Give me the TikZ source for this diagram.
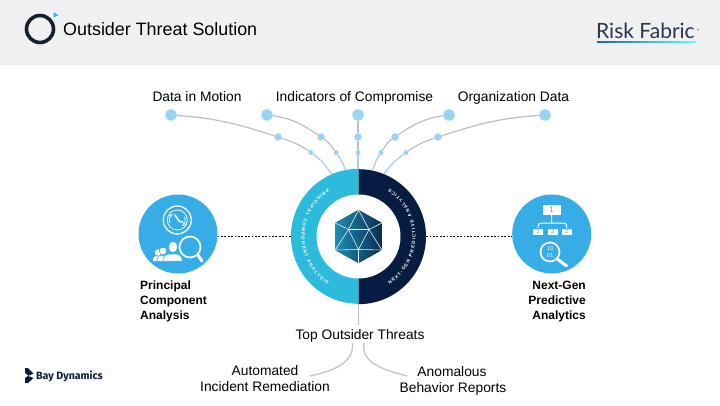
\documentclass[tikz,border=0pt]{standalone}
\usepackage{fontspec}
\setmainfont{Liberation Sans}
\newfontfamily\logofont{Lato}
\newfontfamily\bayfont{Fira Sans}
\usetikzlibrary{backgrounds,decorations.text,calc}
\definecolor{barbg}{HTML}{F0F0F2}
\definecolor{navy}{HTML}{061C40}
\definecolor{teal}{HTML}{2CBBDD}
\definecolor{skyb}{HTML}{36ADE6}
\definecolor{dot}{HTML}{9BD3F3}
\definecolor{wire}{HTML}{B9BEC5}
\definecolor{wireb}{HTML}{A9CDE3}
\definecolor{logodark}{HTML}{14202E}
\definecolor{hexl}{HTML}{1F8DB3}
\definecolor{hexr}{HTML}{0A2C4E}
\definecolor{rfink}{HTML}{2A3650}
\tikzset{
  bigdot/.style={circle,fill=dot,inner sep=0pt,minimum size=11.5pt},
  middot/.style={circle,fill=dot,inner sep=0pt,minimum size=7.5pt},
  smalldot/.style={circle,fill=dot,inner sep=0pt,minimum size=5pt},
  lab/.style={anchor=base,inner sep=0pt,font=\fontsize{13.8}{16}\selectfont,text=black},
  blab/.style={inner sep=0pt,font=\fontsize{12}{15}\selectfont\bfseries,text=black},
  wireline/.style={draw=wire,line width=1.2pt},
  wirelow/.style={draw=wireb,line width=1.2pt},
  iconbg/.style={circle,fill=skyb,inner sep=0pt,minimum size=79pt},
  boxw/.style={fill=white,inner sep=0pt,text=skyb},
  linkdots/.style={line width=1.8pt,dash pattern=on 1.8pt off 1.6pt},
  ringtext/.style={decorate,decoration={text along path,text align={fit to path},text={#1}}}
}
\begin{document}
\begin{tikzpicture}[x=1pt,y=1pt]
\useasboundingbox (0,0) rectangle (720,405);
% header
\fill[barbg] (0,340) rectangle (720,405);
\node[circle,draw=logodark,line width=3.6pt,inner sep=0pt,minimum size=27pt] (logoring) at (40,376) {};
\fill[teal] (53.5,393) -- (58.5,389.5) -- (53.5,387.5) -- cycle;
\node[anchor=base west,inner sep=0pt,font=\fontsize{17.9}{20}\selectfont] (title) at (63,369.5) {Outsider Threat Solution};
\node[anchor=base west,inner sep=0pt,font=\logofont\fontsize{21}{22}\selectfont,text=rfink] (rf) at (596,366) {Risk Fabric};
\fill[logodark] (698,375.5) circle (.6pt);
\fill[left color=blue!55!cyan!70!black!90,right color=cyan!60!white] (597,362.3) rectangle (696,363.6);

% dots
\node[bigdot] (a1) at (171,290) {};
\node[bigdot] (b1) at (267,290) {};
\node[bigdot] (c1) at (358,290) {};
\node[bigdot] (d1) at (449,290) {};
\node[bigdot] (e1) at (545,290) {};
\node[middot] (a2) at (278,268) {};
\node[middot] (b2) at (321,268) {};
\node[middot] (c2) at (358,268) {};
\node[middot] (d2) at (395,268) {};
\node[middot] (e2) at (438,268) {};
\node[smalldot] (a3) at (311,252.5) {};
\node[smalldot] (b3) at (336,252.5) {};
\node[smalldot] (c3) at (358,252.5) {};
\node[smalldot] (d3) at (381,252.5) {};
\node[smalldot] (e3) at (406,252.5) {};

% labels
\node[lab] (l1) at (197,303.2) {Data in Motion};
\node[lab] (l2) at (354.5,303.2) {Indicators of Compromise};
\node[lab] (l3) at (513.5,303.2) {Organization Data};

% hub
\node[circle,inner sep=0pt,minimum size=135pt] (hub) at (358.5,168.5) {};
\fill[teal] (hub.north) arc[start angle=90,end angle=270,radius=67.5pt] -- cycle;
\fill[navy] (hub.south) arc[start angle=-90,end angle=90,radius=67.5pt] -- cycle;
\node[circle,fill=white,inner sep=0pt,minimum size=84pt] (hubin) at (hub.center) {};
\path[postaction={ringtext={|\fontsize{4.6}{5}\selectfont\bfseries\color{white}|PRINCIPAL COMPONENT ANALYSIS}}] ($(hub.center)+(123:57pt)$) arc[start angle=123,end angle=237,radius=57pt];
\path[postaction={ringtext={|\fontsize{4.6}{5}\selectfont\bfseries\color{white}|NEXT-GEN PREDICTIVE ANALYTICS}}] ($(hub.center)+(-57:57pt)$) arc[start angle=-57,end angle=57,radius=57pt];

% hexagon
\begin{scope}[shift={(hub.center)}]
\fill[left color=hexl,right color=hexr] (0,26.5) -- (23.3,13.5) -- (23.3,-13.5) -- (0,-26.5) -- (-23.3,-13.5) -- (-23.3,13.5) -- cycle;
\draw[white!85!teal,line width=.6pt,line join=round]
  (-23.3,-13.5) -- (-10,7) -- (0,26.5) -- (10.5,7) -- (23.3,-13.5) -- (0,-13) -- (-23.3,-13.5)
  (-23.3,13.5) -- (-10,7) -- (10.5,7) -- (23.3,13.5)
  (-10,7) -- (0,-13) -- (10.5,7) (0,-13) -- (0,-26.5);
\end{scope}

% side icons
\node[iconbg] (pca) at (178,171) {};
\node[iconbg] (nextgen) at (551.7,171) {};
% left icon
\begin{scope}[shift={(pca.center)}]
\draw[white,line width=1.3pt] (-.7,14) circle (14pt);
\draw[white,line width=.8pt] (-.7,14) circle (10pt);
\draw[white,line width=1.5pt] (-3.5,19.5) -- (1.5,12.5) -- (5,12);
\draw[white,line width=.7pt,-stealth] (-8,11) arc[start angle=200,end angle=130,radius=8pt];
\draw[white,line width=.7pt,-stealth] (6.5,17) arc[start angle=20,end angle=-50,radius=8pt];
\draw[white,line width=1.7pt] (12,-13) circle (10.5pt);
\draw[white,line width=3pt,line cap=round] (19.5,-20.5) -- (24,-27);
% people
\fill[white] (-20,-18.5) circle (3.2pt);
\fill[white] (-25,-27) .. controls (-25,-22) and (-23,-22) .. (-20,-22) .. controls (-17,-22) and (-15,-22) .. (-15,-27) -- cycle;
\fill[white,draw=skyb,line width=.5pt] (-15,-17) circle (3.8pt);
\fill[white,draw=skyb,line width=.5pt] (-21,-27) .. controls (-21,-21) and (-18,-21.5) .. (-15,-21.5) .. controls (-12,-21.5) and (-9,-21) .. (-8,-27) -- cycle;
\fill[white,draw=skyb,line width=.5pt] (-5,-13) ellipse (4.6pt and 5.6pt);
\fill[white,draw=skyb,line width=.5pt] (-15,-27) .. controls (-15,-19.5) and (-10,-20) .. (-5,-20) .. controls (0,-20) and (3,-19.5) .. (4.5,-27) -- cycle;
\end{scope}
% right icon
\begin{scope}[shift={(nextgen.center)}]
\node[boxw,minimum width=18pt,minimum height=10pt,font=\fontsize{8}{8}\selectfont] (one) at (0,24) {1};
\draw[white,line width=1pt] (one.south) -- (0,11)
  (-13.5,6) -- (-13.5,8) arc[start angle=180,end angle=90,radius=3pt] -- (12,11) arc[start angle=90,end angle=0,radius=3pt] -- (15,6);
\node[boxw,minimum width=10pt,minimum height=6pt,font=\fontsize{5.5}{5.5}\selectfont] (two1) at (-13.5,2) {2};
\node[boxw,minimum width=10pt,minimum height=6pt,font=\fontsize{5.5}{5.5}\selectfont] (two2) at (1,2) {2};
\node[boxw,minimum width=10pt,minimum height=6pt,font=\fontsize{5.5}{5.5}\selectfont] (two3) at (15,2) {2};
\draw[white,line width=1.7pt] (-1.7,-18) circle (9.5pt);
\draw[white,line width=3pt,line cap=round] (5.5,-25) -- (15,-32);
\node[inner sep=0pt,align=center,text=white,font=\ttfamily\fontsize{6.5}{6.5}\selectfont] (bits) at (-1.7,-18) {10\\01};
\end{scope}

\node[blab,anchor=north west,align=left] (pcal) at (140,124.5) {Principal\\Component\\Analysis};
\node[blab,anchor=north east,align=right] (ngl) at (586,124.5) {Next-Gen\\Predictive\\Analytics};

% bottom
\node[lab] (top) at (360,66) {Top Outsider Threats};
\node[lab] (auto) at (265,29.5) {Automated};
\node[lab] (inc) at (265,13.5) {Incident Remediation};
\node[lab] (anom) at (452,29) {Anomalous};
\node[lab] (beh) at (453,13) {Behavior Reports};
\coordinate (fl) at (310,29);
\coordinate (fr) at (407,29);
\coordinate (tl) at (352.5,62);
\coordinate (tr) at (364,62);
\coordinate (tt) at (358.5,80);

% Bay Dynamics
\fill[navy] (25,37) -- (28,37) -- (33.5,31.5) -- (28,29) -- (33.5,27) -- (28,22) -- (25,22) -- (25,27) -- (28.5,29.5) -- (25,32) -- cycle;
\node[anchor=base west,inner sep=0pt,font=\bayfont\bfseries\fontsize{10.6}{11}\selectfont,text=navy] (bay) at (36,25.5) {Bay Dynamics};
\fill[navy!70] (106,30) circle (.4pt);

% connectors
\begin{scope}[on background layer]
\draw[wireline] (a1) to[out=-4,in=162] (a2);
\draw[wireline] (a2) to[out=-18,in=146] (a3);
\draw[wirelow] (a3) to[out=-36,in=128] (hub.113);
\draw[wireline] (b1) to[out=-8,in=146] (b2);
\draw[wireline] (b2) to[out=-34,in=125] (b3);
\draw[wirelow] (b3) to[out=-55,in=112] (hub.101.5);
\draw[wireline] (c1) -- (c2);
\draw[wireline] (c2) -- (c3);
\draw[wirelow] (c3) -- (c3 |- hub.north);
\draw[wireline] (d1) to[out=188,in=34] (d2);
\draw[wireline] (d2) to[out=214,in=55] (d3);
\draw[wirelow] (d3) to[out=235,in=68] (hub.78);
\draw[wireline] (e1) to[out=184,in=18] (e2);
\draw[wireline] (e2) to[out=198,in=34] (e3);
\draw[wirelow] (e3) to[out=216,in=52] (hub.68);
\draw[draw=wire,line width=1.8pt] (hub.south) -- (tt);
\draw[draw=wire!85!white,line width=1.4pt] (tl) to[out=-85,in=12] (fl);
\draw[draw=wire!85!white,line width=1.4pt] (tr) to[out=-100,in=165] (fr);
\end{scope}
\draw[linkdots] (hub.west) -- (hub.west -| pca.east);
\draw[linkdots] (hub.east) -- (hub.east -| nextgen.west);
\end{tikzpicture}
\end{document}
